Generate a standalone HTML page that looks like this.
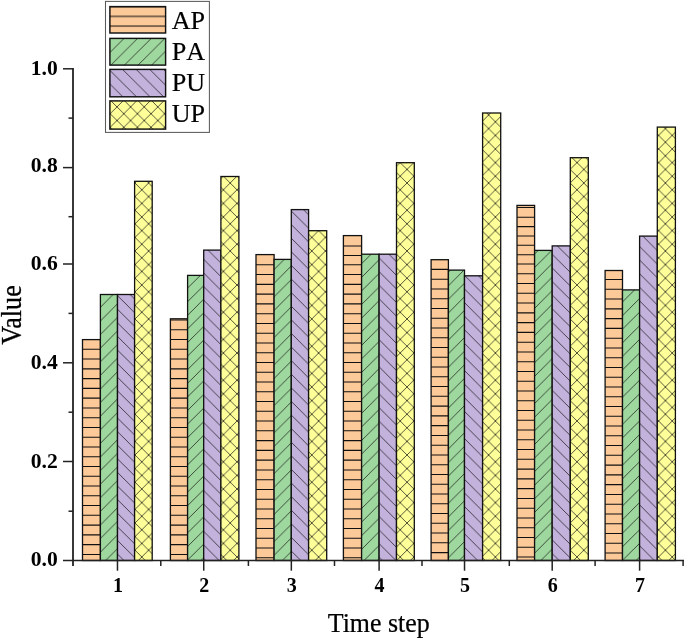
<!DOCTYPE html>
<html lang="en"><head><meta charset="utf-8"><title>Bar chart</title>
<style>html,body{margin:0;padding:0;background:#fff}body{width:685px;height:639px;overflow:hidden}svg{display:block}text{font-family:"Liberation Serif","Times New Roman",serif;fill:#000}</style>
</head><body>
<svg width="685" height="639" viewBox="0 0 685 639">
<defs>
<pattern id="hA" patternUnits="userSpaceOnUse" x="0" y="0.80" width="20" height="9.8"><line x1="0" y1="4.9" x2="20" y2="4.9" stroke="#111" stroke-width="1.05"/></pattern>
<pattern id="hB" patternUnits="userSpaceOnUse" x="13.30" y="0.00" width="13.6" height="13.6"><path d="M-13.6 13.6L13.6 -13.6M0 13.6L13.6 0M0 27.2L27.2 0" stroke="#111" stroke-width="0.72" fill="none"/></pattern>
<pattern id="hC" patternUnits="userSpaceOnUse" x="12.30" y="0.00" width="13.6" height="13.6"><path d="M-13.6 0L13.6 27.2M0 0L13.6 13.6M0 -13.6L27.2 13.6" stroke="#111" stroke-width="0.72" fill="none"/></pattern>
<pattern id="hD" patternUnits="userSpaceOnUse" x="5.80" y="13.00" width="13.6" height="13.6"><path d="M-13.6 13.6L13.6 -13.6M0 13.6L13.6 0M0 27.2L27.2 0" stroke="#111" stroke-width="0.72" fill="none"/><path d="M-13.6 0L13.6 27.2M0 0L13.6 13.6M0 -13.6L27.2 13.6" stroke="#111" stroke-width="0.72" fill="none"/></pattern>
<pattern id="lA" patternUnits="userSpaceOnUse" x="0" y="1.85" width="20" height="9.7"><line x1="0" y1="4.85" x2="20" y2="4.85" stroke="#111" stroke-width="1.05"/></pattern>
<pattern id="lB" patternUnits="userSpaceOnUse" x="12.80" y="0.00" width="13.6" height="13.6"><path d="M-13.6 13.6L13.6 -13.6M0 13.6L13.6 0M0 27.2L27.2 0" stroke="#111" stroke-width="0.72" fill="none"/></pattern>
<pattern id="lC" patternUnits="userSpaceOnUse" x="12.40" y="0.00" width="13.6" height="13.6"><path d="M-13.6 0L13.6 27.2M0 0L13.6 13.6M0 -13.6L27.2 13.6" stroke="#111" stroke-width="0.72" fill="none"/></pattern>
<pattern id="lD" patternUnits="userSpaceOnUse" x="1.40" y="4.90" width="13.6" height="13.6"><path d="M-13.6 13.6L13.6 -13.6M0 13.6L13.6 0M0 27.2L27.2 0" stroke="#111" stroke-width="0.72" fill="none"/><path d="M-13.6 0L13.6 27.2M0 0L13.6 13.6M0 -13.6L27.2 13.6" stroke="#111" stroke-width="0.72" fill="none"/></pattern>
</defs>
<rect width="685" height="639" fill="#fff"/>
<rect x="82.50" y="339.60" width="17.9" height="220.90" fill="#FCC998"/>
<path d="M82.50 554.40h17.9M82.50 544.63h17.9M82.50 534.87h17.9M82.50 525.10h17.9M82.50 515.34h17.9M82.50 505.57h17.9M82.50 495.80h17.9M82.50 486.04h17.9M82.50 476.27h17.9M82.50 466.51h17.9M82.50 456.74h17.9M82.50 446.97h17.9M82.50 437.21h17.9M82.50 427.44h17.9M82.50 417.68h17.9M82.50 407.91h17.9M82.50 398.14h17.9M82.50 388.38h17.9M82.50 378.61h17.9M82.50 368.85h17.9M82.50 359.08h17.9M82.50 349.31h17.9" stroke="#111" stroke-width="1.05" fill="none"/>
<rect x="82.50" y="339.60" width="17.9" height="220.90" fill="none" stroke="#111" stroke-width="1.3"/>
<rect x="100.40" y="294.50" width="17.1" height="266.00" fill="#9FD89F"/>
<rect x="100.40" y="294.50" width="17.1" height="266.00" fill="url(#hB)" stroke="#111" stroke-width="1.3"/>
<rect x="117.50" y="294.50" width="17.1" height="266.00" fill="#C3B2DC"/>
<rect x="117.50" y="294.50" width="17.1" height="266.00" fill="url(#hC)" stroke="#111" stroke-width="1.3"/>
<rect x="134.60" y="181.30" width="17.6" height="379.20" fill="#FFFF99"/>
<rect x="134.60" y="181.30" width="17.6" height="379.20" fill="url(#hD)" stroke="#111" stroke-width="1.3"/>
<rect x="170.40" y="318.80" width="17.2" height="241.70" fill="#FCC998"/>
<path d="M170.40 554.40h17.2M170.40 544.63h17.2M170.40 534.87h17.2M170.40 525.10h17.2M170.40 515.34h17.2M170.40 505.57h17.2M170.40 495.80h17.2M170.40 486.04h17.2M170.40 476.27h17.2M170.40 466.51h17.2M170.40 456.74h17.2M170.40 446.97h17.2M170.40 437.21h17.2M170.40 427.44h17.2M170.40 417.68h17.2M170.40 407.91h17.2M170.40 398.14h17.2M170.40 388.38h17.2M170.40 378.61h17.2M170.40 368.85h17.2M170.40 359.08h17.2M170.40 349.31h17.2M170.40 339.55h17.2M170.40 329.78h17.2M170.40 320.02h17.2" stroke="#111" stroke-width="1.05" fill="none"/>
<rect x="170.40" y="318.80" width="17.2" height="241.70" fill="none" stroke="#111" stroke-width="1.3"/>
<rect x="187.60" y="275.40" width="16.1" height="285.10" fill="#9FD89F"/>
<rect x="187.60" y="275.40" width="16.1" height="285.10" fill="url(#hB)" stroke="#111" stroke-width="1.3"/>
<rect x="203.70" y="250.10" width="17.2" height="310.40" fill="#C3B2DC"/>
<rect x="203.70" y="250.10" width="17.2" height="310.40" fill="url(#hC)" stroke="#111" stroke-width="1.3"/>
<rect x="220.90" y="176.50" width="18.0" height="384.00" fill="#FFFF99"/>
<rect x="220.90" y="176.50" width="18.0" height="384.00" fill="url(#hD)" stroke="#111" stroke-width="1.3"/>
<rect x="256.00" y="254.60" width="18.1" height="305.90" fill="#FCC998"/>
<path d="M256.00 557.80h18.1M256.00 548.03h18.1M256.00 538.27h18.1M256.00 528.50h18.1M256.00 518.74h18.1M256.00 508.97h18.1M256.00 499.20h18.1M256.00 489.44h18.1M256.00 479.67h18.1M256.00 469.91h18.1M256.00 460.14h18.1M256.00 450.37h18.1M256.00 440.61h18.1M256.00 430.84h18.1M256.00 421.08h18.1M256.00 411.31h18.1M256.00 401.54h18.1M256.00 391.78h18.1M256.00 382.01h18.1M256.00 372.25h18.1M256.00 362.48h18.1M256.00 352.71h18.1M256.00 342.95h18.1M256.00 333.18h18.1M256.00 323.42h18.1M256.00 313.65h18.1M256.00 303.88h18.1M256.00 294.12h18.1M256.00 284.35h18.1M256.00 274.59h18.1M256.00 264.82h18.1" stroke="#111" stroke-width="1.05" fill="none"/>
<rect x="256.00" y="254.60" width="18.1" height="305.90" fill="none" stroke="#111" stroke-width="1.3"/>
<rect x="274.10" y="259.40" width="17.2" height="301.10" fill="#9FD89F"/>
<rect x="274.10" y="259.40" width="17.2" height="301.10" fill="url(#hB)" stroke="#111" stroke-width="1.3"/>
<rect x="291.30" y="209.60" width="17.3" height="350.90" fill="#C3B2DC"/>
<rect x="291.30" y="209.60" width="17.3" height="350.90" fill="url(#hC)" stroke="#111" stroke-width="1.3"/>
<rect x="308.60" y="230.70" width="18.1" height="329.80" fill="#FFFF99"/>
<rect x="308.60" y="230.70" width="18.1" height="329.80" fill="url(#hD)" stroke="#111" stroke-width="1.3"/>
<rect x="343.40" y="235.60" width="18.2" height="324.90" fill="#FCC998"/>
<path d="M343.40 557.80h18.2M343.40 548.03h18.2M343.40 538.27h18.2M343.40 528.50h18.2M343.40 518.74h18.2M343.40 508.97h18.2M343.40 499.20h18.2M343.40 489.44h18.2M343.40 479.67h18.2M343.40 469.91h18.2M343.40 460.14h18.2M343.40 450.37h18.2M343.40 440.61h18.2M343.40 430.84h18.2M343.40 421.08h18.2M343.40 411.31h18.2M343.40 401.54h18.2M343.40 391.78h18.2M343.40 382.01h18.2M343.40 372.25h18.2M343.40 362.48h18.2M343.40 352.71h18.2M343.40 342.95h18.2M343.40 333.18h18.2M343.40 323.42h18.2M343.40 313.65h18.2M343.40 303.88h18.2M343.40 294.12h18.2M343.40 284.35h18.2M343.40 274.59h18.2M343.40 264.82h18.2M343.40 255.44h18.2M343.40 246.09h18.2" stroke="#111" stroke-width="1.05" fill="none"/>
<rect x="343.40" y="235.60" width="18.2" height="324.90" fill="none" stroke="#111" stroke-width="1.3"/>
<rect x="361.60" y="254.20" width="17.5" height="306.30" fill="#9FD89F"/>
<rect x="361.60" y="254.20" width="17.5" height="306.30" fill="url(#hB)" stroke="#111" stroke-width="1.3"/>
<rect x="379.10" y="254.20" width="17.4" height="306.30" fill="#C3B2DC"/>
<rect x="379.10" y="254.20" width="17.4" height="306.30" fill="url(#hC)" stroke="#111" stroke-width="1.3"/>
<rect x="396.50" y="162.70" width="17.8" height="397.80" fill="#FFFF99"/>
<rect x="396.50" y="162.70" width="17.8" height="397.80" fill="url(#hD)" stroke="#111" stroke-width="1.3"/>
<rect x="431.10" y="259.70" width="17.3" height="300.80" fill="#FCC998"/>
<path d="M431.10 552.60h17.3M431.10 542.83h17.3M431.10 533.07h17.3M431.10 523.30h17.3M431.10 513.54h17.3M431.10 503.77h17.3M431.10 494.00h17.3M431.10 484.24h17.3M431.10 474.47h17.3M431.10 464.71h17.3M431.10 454.94h17.3M431.10 445.17h17.3M431.10 435.41h17.3M431.10 425.64h17.3M431.10 415.88h17.3M431.10 406.11h17.3M431.10 396.34h17.3M431.10 386.58h17.3M431.10 376.81h17.3M431.10 367.05h17.3M431.10 357.28h17.3M431.10 347.51h17.3M431.10 337.75h17.3M431.10 327.98h17.3M431.10 318.22h17.3M431.10 308.45h17.3M431.10 298.68h17.3M431.10 288.92h17.3M431.10 279.15h17.3M431.10 269.39h17.3" stroke="#111" stroke-width="1.05" fill="none"/>
<rect x="431.10" y="259.70" width="17.3" height="300.80" fill="none" stroke="#111" stroke-width="1.3"/>
<rect x="448.40" y="270.10" width="16.1" height="290.40" fill="#9FD89F"/>
<rect x="448.40" y="270.10" width="16.1" height="290.40" fill="url(#hB)" stroke="#111" stroke-width="1.3"/>
<rect x="464.50" y="275.80" width="18.1" height="284.70" fill="#C3B2DC"/>
<rect x="464.50" y="275.80" width="18.1" height="284.70" fill="url(#hC)" stroke="#111" stroke-width="1.3"/>
<rect x="482.60" y="113.00" width="18.1" height="447.50" fill="#FFFF99"/>
<rect x="482.60" y="113.00" width="18.1" height="447.50" fill="url(#hD)" stroke="#111" stroke-width="1.3"/>
<rect x="517.00" y="205.40" width="17.6" height="355.10" fill="#FCC998"/>
<path d="M517.00 557.00h17.6M517.00 547.23h17.6M517.00 537.47h17.6M517.00 527.70h17.6M517.00 517.94h17.6M517.00 508.17h17.6M517.00 498.40h17.6M517.00 488.64h17.6M517.00 478.87h17.6M517.00 469.11h17.6M517.00 459.34h17.6M517.00 449.57h17.6M517.00 439.81h17.6M517.00 430.04h17.6M517.00 420.28h17.6M517.00 410.51h17.6M517.00 400.74h17.6M517.00 390.98h17.6M517.00 381.21h17.6M517.00 371.45h17.6M517.00 361.68h17.6M517.00 351.91h17.6M517.00 342.15h17.6M517.00 332.38h17.6M517.00 322.62h17.6M517.00 312.85h17.6M517.00 303.08h17.6M517.00 293.32h17.6M517.00 283.55h17.6M517.00 273.79h17.6M517.00 264.02h17.6M517.00 254.67h17.6M517.00 245.32h17.6M517.00 235.97h17.6M517.00 226.63h17.6M517.00 217.28h17.6M517.00 207.52h17.6" stroke="#111" stroke-width="1.05" fill="none"/>
<rect x="517.00" y="205.40" width="17.6" height="355.10" fill="none" stroke="#111" stroke-width="1.3"/>
<rect x="534.60" y="250.40" width="17.6" height="310.10" fill="#9FD89F"/>
<rect x="534.60" y="250.40" width="17.6" height="310.10" fill="url(#hB)" stroke="#111" stroke-width="1.3"/>
<rect x="552.20" y="245.90" width="18.1" height="314.60" fill="#C3B2DC"/>
<rect x="552.20" y="245.90" width="18.1" height="314.60" fill="url(#hC)" stroke="#111" stroke-width="1.3"/>
<rect x="570.30" y="157.70" width="18.0" height="402.80" fill="#FFFF99"/>
<rect x="570.30" y="157.70" width="18.0" height="402.80" fill="url(#hD)" stroke="#111" stroke-width="1.3"/>
<rect x="605.10" y="270.50" width="17.4" height="290.00" fill="#FCC998"/>
<path d="M605.10 553.00h17.4M605.10 543.23h17.4M605.10 533.47h17.4M605.10 523.70h17.4M605.10 513.94h17.4M605.10 504.17h17.4M605.10 494.40h17.4M605.10 484.64h17.4M605.10 474.87h17.4M605.10 465.11h17.4M605.10 455.34h17.4M605.10 445.57h17.4M605.10 435.81h17.4M605.10 426.04h17.4M605.10 416.28h17.4M605.10 406.51h17.4M605.10 396.74h17.4M605.10 386.98h17.4M605.10 377.21h17.4M605.10 367.45h17.4M605.10 357.68h17.4M605.10 347.91h17.4M605.10 338.15h17.4M605.10 328.38h17.4M605.10 318.62h17.4M605.10 308.85h17.4M605.10 299.08h17.4M605.10 289.32h17.4M605.10 279.55h17.4" stroke="#111" stroke-width="1.05" fill="none"/>
<rect x="605.10" y="270.50" width="17.4" height="290.00" fill="none" stroke="#111" stroke-width="1.3"/>
<rect x="622.50" y="289.90" width="17.1" height="270.60" fill="#9FD89F"/>
<rect x="622.50" y="289.90" width="17.1" height="270.60" fill="url(#hB)" stroke="#111" stroke-width="1.3"/>
<rect x="639.60" y="236.10" width="17.7" height="324.40" fill="#C3B2DC"/>
<rect x="639.60" y="236.10" width="17.7" height="324.40" fill="url(#hC)" stroke="#111" stroke-width="1.3"/>
<rect x="657.30" y="127.10" width="18.1" height="433.40" fill="#FFFF99"/>
<rect x="657.30" y="127.10" width="18.1" height="433.40" fill="url(#hD)" stroke="#111" stroke-width="1.3"/>
<path d="M73 68.0V566" stroke="#383838" stroke-width="2" fill="none"/>
<g stroke="#222" stroke-width="1.5" fill="none" stroke-linecap="butt">
<path d="M63 560.5H684"/>
<path d="M68.5 511.20H73"/>
<path d="M63 461.50H73"/>
<path d="M68.5 412.20H73"/>
<path d="M63 362.80H73"/>
<path d="M68.5 313.40H73"/>
<path d="M63 264.00H73"/>
<path d="M68.5 216.70H73"/>
<path d="M63 167.60H73"/>
<path d="M68.5 118.10H73"/>
<path d="M63 68.80H73"/>
<path d="M117.47 560.5V570.7"/>
<path d="M160.80 560.5V566"/>
<path d="M203.72 560.5V570.7"/>
<path d="M248.40 560.5V566"/>
<path d="M291.34 560.5V570.7"/>
<path d="M334.50 560.5V566"/>
<path d="M379.10 560.5V570.7"/>
<path d="M422.00 560.5V566"/>
<path d="M464.53 560.5V570.7"/>
<path d="M509.30 560.5V566"/>
<path d="M552.20 560.5V570.7"/>
<path d="M595.10 560.5V566"/>
<path d="M639.60 560.5V570.7"/>
<path d="M683.1 560.5V566"/>
</g>
<g font-size="21.6" font-weight="bold" text-anchor="end">
<text x="57.7" y="566.40">0.0</text>
<text x="57.7" y="467.50">0.2</text>
<text x="57.7" y="368.50">0.4</text>
<text x="57.7" y="270.20">0.6</text>
<text x="57.7" y="171.80">0.8</text>
<text x="57.7" y="74.80">1.0</text>
</g>
<g font-size="20" font-weight="bold" text-anchor="middle">
<text x="117.97" y="592.0">1</text>
<text x="204.22" y="592.0">2</text>
<text x="291.84" y="592.0">3</text>
<text x="379.60" y="592.0">4</text>
<text x="465.03" y="592.0">5</text>
<text x="552.70" y="592.0">6</text>
<text x="640.10" y="592.0">7</text>
</g>
<text transform="translate(378.7 632) scale(0.97 1)" font-size="26.7" text-anchor="middle" stroke="#000" stroke-width="0.25">Time step</text>
<text transform="translate(20.8 315) rotate(-90) scale(0.9 1)" font-size="29" text-anchor="middle" stroke="#000" stroke-width="0.3">Value</text>
<rect x="105.5" y="1.4" width="103.9" height="131.0" fill="#fff" stroke="#5a5a5a" stroke-width="1.05"/>
<rect x="109.9" y="6.6" width="55.7" height="26.4" fill="#FCC998"/>
<rect x="109.9" y="6.6" width="55.7" height="26.4" fill="url(#lA)" stroke="#111" stroke-width="1.45"/>
<text x="171.7" y="28.6" font-size="26.1" style="font-kerning:none" stroke="#000" stroke-width="0.2">AP</text>
<rect x="109.9" y="38.4" width="55.7" height="26.7" fill="#9FD89F"/>
<rect x="109.9" y="38.4" width="55.7" height="26.7" fill="url(#lB)" stroke="#111" stroke-width="1.45"/>
<text x="171.7" y="60.1" font-size="26.1" style="font-kerning:none" stroke="#000" stroke-width="0.2">PA</text>
<rect x="109.9" y="69.4" width="55.7" height="27.4" fill="#C3B2DC"/>
<rect x="109.9" y="69.4" width="55.7" height="27.4" fill="url(#lC)" stroke="#111" stroke-width="1.45"/>
<text x="171.7" y="91.0" font-size="26.1" style="font-kerning:none" stroke="#000" stroke-width="0.2">PU</text>
<rect x="109.9" y="100.9" width="55.7" height="28.2" fill="#FFFF99"/>
<rect x="109.9" y="100.9" width="55.7" height="28.2" fill="url(#lD)" stroke="#111" stroke-width="1.45"/>
<text x="171.7" y="122.2" font-size="26.1" style="font-kerning:none" stroke="#000" stroke-width="0.2">UP</text>
</svg></body></html>
